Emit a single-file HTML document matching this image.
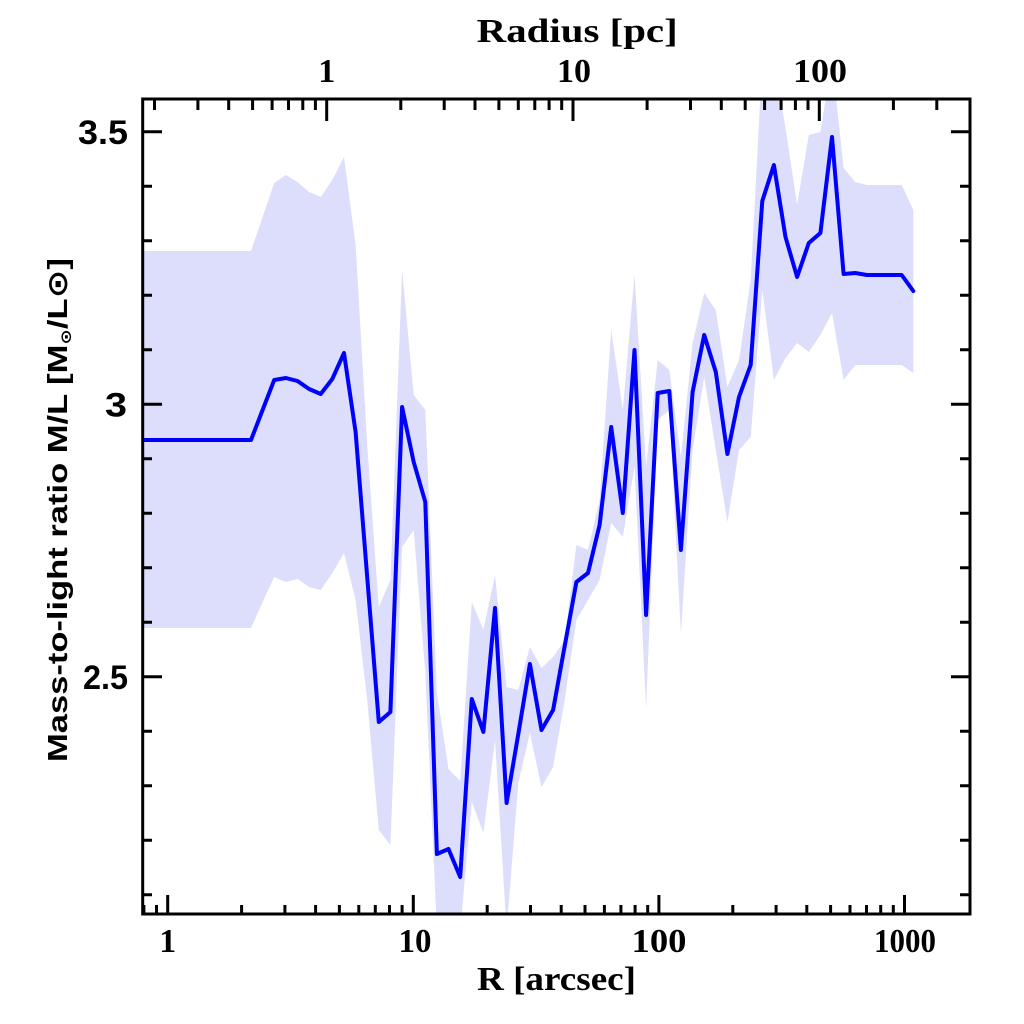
<!DOCTYPE html>
<html>
<head>
<meta charset="utf-8">
<style>
  html, body { margin:0; padding:0; background:#ffffff; }
  svg { display:block; }
</style>
</head>
<body>
<svg width="1024" height="1024" viewBox="0 0 1024 1024" xmlns="http://www.w3.org/2000/svg">
  <defs>
    <clipPath id="plot">
      <rect x="142.7" y="99" width="827.3" height="815"/>
    </clipPath>
  </defs>
  <rect x="0" y="0" width="1024" height="1024" fill="#ffffff"/>

  <g clip-path="url(#plot)">
    <polygon fill="rgb(221,221,252)" stroke="none" points="
      141,251 251,251 262.6,217 274.2,183 285.9,175 297.5,182 309.1,192 320.7,197 332.3,180 344,157 355.6,245 367.2,445 378.8,607 390.4,580 402.1,270 413.7,395 425.3,410 436.9,693 448.5,769 460.2,781 471.8,602 483.4,630 495,575 506.6,687 518.3,690 529.9,647 541.5,668 553.1,657 564.7,640 576.4,545 588,550 599.6,500 611.2,330 622.8,410 634.5,275 646.1,466 657.7,360 669.3,370 680.9,457 692.6,343 704.2,293 715.8,310 727.4,387 739,360 750.7,280 762.3,60 773.9,60 785.5,128 797.1,205 808.8,135 820.4,132 832,60 843.6,168 855.2,182 866.9,185 878.5,185 890.1,185 901.7,185 913.3,210
      913.3,373 901.7,365 890.1,365 878.5,365 866.9,365 855.2,365 843.6,380 832,313 820.4,335 808.8,352 797.1,343 785.5,358 773.9,380 762.3,290 750.7,437 739,450 727.4,522 715.8,450 704.2,377 692.6,450 680.9,633 669.3,410 657.7,420 646.1,708 634.5,467 622.8,537 611.2,523 599.6,580 588,600 576.4,620 564.7,700 553.1,767 541.5,787 529.9,733 518.3,783 506.6,930 495,740 483.4,833 471.8,802 460.2,930 448.5,930 436.9,930 425.3,673 413.7,530 402.1,547 390.4,845 378.8,830 367.2,700 355.6,600 344,553 332.3,573 320.7,590 309.1,587 297.5,579 285.9,582 274.2,577 262.6,602 251,628 141,628"/>
    <polyline fill="none" stroke="#0000ff" stroke-width="4" stroke-linejoin="round" stroke-linecap="round" points="
      141,440 251,440 262.6,410 274.2,380 285.9,378 297.5,381 309.1,389 320.7,394 332.3,379 344,353 355.6,432 367.2,577 378.8,722 390.4,712 402.1,407 413.7,462 425.3,502 436.9,854 448.5,849 460.2,877 471.8,699 483.4,732 495,608 506.6,803 518.3,734 529.9,664 541.5,730 553.1,710 564.7,646 576.4,582 588,573 599.6,525 611.2,427 622.8,513 634.5,350 646.1,615 657.7,393 669.3,391 680.9,550 692.6,392 704.2,335 715.8,372 727.4,454 739,397 750.7,365 762.3,201 773.9,165 785.5,237 797.1,277 808.8,243 820.4,233 832,137 843.6,274 855.2,273 866.9,275 878.5,275 890.1,275 901.7,275 913.3,291"/>
  </g>

  <!-- Frame -->
  <rect x="142.7" y="99" width="827.3" height="815" fill="none" stroke="#000" stroke-width="3"/>

  <!-- Ticks -->
  <g stroke="#000" stroke-width="3" fill="none">
    <path d="M167.7,914V895 M413.3,914V895 M658.9,914V895 M904.5,914V895"/>
    <path d="M143.9,914V905 M156.5,914V905 M241.6,914V905 M284.9,914V905 M315.6,914V905 M339.4,914V905 M358.8,914V905 M375.3,914V905 M389.5,914V905 M402.1,914V905
             M487.2,914V905 M530.5,914V905 M561.2,914V905 M585,914V905 M604.4,914V905 M620.9,914V905 M635.1,914V905 M647.7,914V905
             M732.8,914V905 M776.1,914V905 M806.8,914V905 M830.6,914V905 M850,914V905 M866.5,914V905 M880.7,914V905 M893.3,914V905"/>
    <path d="M326.7,99V121 M573,99V121 M819.3,99V121"/>
    <path d="M154.5,99V110 M197.9,99V110 M228.7,99V110 M252.6,99V110 M272.1,99V110 M288.5,99V110 M302.8,99V110 M315.4,99V110
             M400.8,99V110 M444.2,99V110 M475,99V110 M498.9,99V110 M518.3,99V110 M534.8,99V110 M549.1,99V110 M561.7,99V110
             M647.1,99V110 M690.5,99V110 M721.3,99V110 M745.2,99V110 M764.6,99V110 M781.1,99V110 M795.4,99V110 M808,99V110
             M893.4,99V110 M936.8,99V110"/>
    <path d="M142.7,131.7H162 M142.7,404.2H162 M142.7,676.7H162"/>
    <path d="M142.7,894.7H152 M142.7,840.2H152 M142.7,785.7H152 M142.7,731.2H152 M142.7,622.2H152 M142.7,567.7H152 M142.7,513.2H152 M142.7,458.7H152 M142.7,349.7H152 M142.7,295.2H152 M142.7,240.7H152 M142.7,186.2H152"/>
    <path d="M970,131.7H951 M970,404.2H951 M970,676.7H951"/>
    <path d="M970,894.7H960 M970,840.2H960 M970,785.7H960 M970,731.2H960 M970,622.2H960 M970,567.7H960 M970,513.2H960 M970,458.7H960 M970,349.7H960 M970,295.2H960 M970,240.7H960 M970,186.2H960"/>
  </g>

  <!-- Bottom tick labels -->
  <g font-family="'Liberation Serif', serif" font-weight="bold" font-size="34" fill="#000" text-anchor="middle">
    <text x="167.7" y="952">1</text>
    <text x="415" y="952" textLength="33" lengthAdjust="spacingAndGlyphs">10</text>
    <text x="659" y="952" textLength="55" lengthAdjust="spacingAndGlyphs">100</text>
    <text x="905" y="952" textLength="62" lengthAdjust="spacingAndGlyphs">1000</text>
  </g>
  <!-- Top tick labels -->
  <g font-family="'Liberation Serif', serif" font-weight="bold" font-size="34" fill="#000" text-anchor="middle">
    <text x="326.7" y="82">1</text>
    <text x="574" y="82" textLength="34" lengthAdjust="spacingAndGlyphs">10</text>
    <text x="820" y="82" textLength="54" lengthAdjust="spacingAndGlyphs">100</text>
  </g>
  <!-- Left tick labels -->
  <g font-family="'Liberation Sans', sans-serif" font-weight="bold" font-size="34" fill="#000">
    <text x="78" y="144" textLength="50" lengthAdjust="spacingAndGlyphs">3.5</text>
    <text x="105" y="416.5" textLength="22" lengthAdjust="spacingAndGlyphs">3</text>
    <text x="83" y="689" textLength="45" lengthAdjust="spacingAndGlyphs">2.5</text>
  </g>

  <!-- Axis titles -->
  <text x="476.7" y="42" font-family="'Liberation Serif', serif" font-weight="bold" font-size="34" fill="#000" textLength="201" lengthAdjust="spacingAndGlyphs">Radius [pc]</text>
  <text x="477" y="990" font-family="'Liberation Serif', serif" font-weight="bold" font-size="34" fill="#000" textLength="159" lengthAdjust="spacingAndGlyphs">R [arcsec]</text>
  <text transform="translate(67,510) rotate(-90)" text-anchor="middle" font-family="'Liberation Sans', 'DejaVu Sans', sans-serif" font-weight="bold" font-size="28" fill="#000" textLength="504" lengthAdjust="spacingAndGlyphs">Mass-to-light ratio M/L [M<tspan font-size="15" dy="4">⊙</tspan><tspan dy="-4">/L⊙]</tspan></text>
</svg>
</body>
</html>
